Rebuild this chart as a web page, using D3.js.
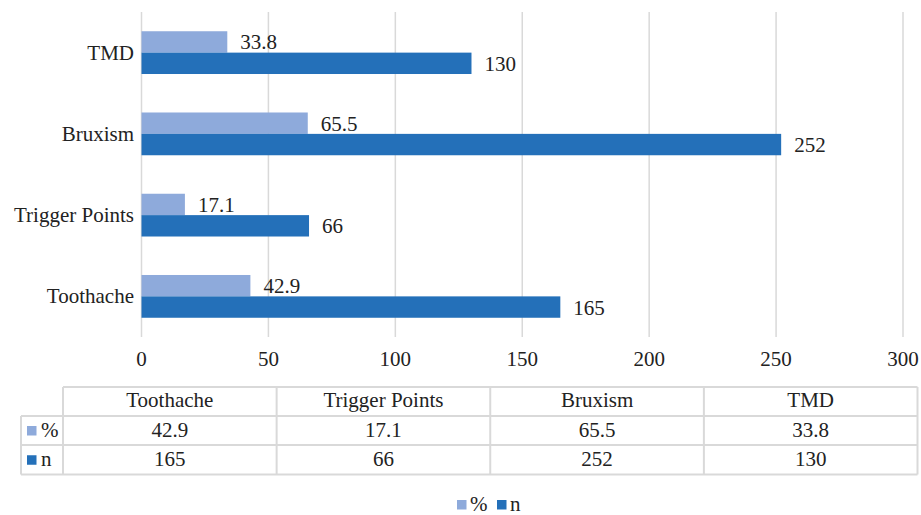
<!DOCTYPE html>
<html>
<head>
<meta charset="utf-8">
<script src="https://cdn.jsdelivr.net/npm/d3@7"></script>
</head>
<body style="margin:0;background:#fff">
<div id="chart"></div>
<script>
// data
var categories = ["Toothache", "Trigger Points", "Bruxism", "TMD"];
var pctValues = [42.9, 17.1, 65.5, 33.8];
var nValues = [165, 66, 252, 130];
var seriesNames = ["%", "n"];
var seriesColors = ["#8eaadb", "#2470b9"];
var xTicks = [0, 50, 100, 150, 200, 250, 300];

var width = 921, height = 515;
var fontSize = 21;

var svg = d3.select("#chart").append("svg")
  .attr("width", width)
  .attr("height", height);

var x = d3.scaleLinear().domain([0, 300]).range([141.5, 903]);

// TMD on top, Toothache at bottom
var y = d3.scaleBand()
  .domain(categories.slice().reverse())
  .range([12, 337])
  .paddingInner(0)
  .paddingOuter(0);

var inner = d3.scaleBand()
  .domain(seriesNames)
  .range([0, y.bandwidth()])
  .paddingInner(0)
  .paddingOuter(0.9);

// gridlines
svg.append("g")
  .selectAll("line")
  .data(xTicks)
  .join("line")
  .attr("x1", d => x(d))
  .attr("x2", d => x(d))
  .attr("y1", 12)
  .attr("y2", 337)
  .attr("stroke", "#d9d9d9")
  .attr("stroke-width", 1.5);

// x tick labels
svg.append("g")
  .selectAll("text")
  .data(xTicks)
  .join("text")
  .attr("x", d => x(d))
  .attr("y", 366)
  .attr("text-anchor", "middle")
  .text(d => d);

var rows = categories.map((c, i) => ({ cat: c, vals: [pctValues[i], nValues[i]] }));

var group = svg.append("g")
  .selectAll("g")
  .data(rows)
  .join("g")
  .attr("transform", d => "translate(0," + y(d.cat) + ")");

var pairs = group.selectAll("g.bar")
  .data(d => d.vals.map((v, j) => ({ series: seriesNames[j], v: v, j: j })))
  .join("g")
  .attr("class", "bar");

pairs.append("rect")
  .attr("x", x(0))
  .attr("y", d => inner(d.series))
  .attr("width", d => x(d.v) - x(0))
  .attr("height", inner.bandwidth())
  .attr("fill", d => seriesColors[d.j]);

pairs.append("text")
  .attr("x", d => x(d.v) + 13)
  .attr("y", d => inner(d.series) + inner.bandwidth() / 2 + 7.5)
  .text(d => d.v);

// category labels
group.append("text")
  .attr("x", 134)
  .attr("y", y.bandwidth() / 2 + 7)
  .attr("text-anchor", "end")
  .text(d => d.cat);

// data table under the chart
var colX = d3.scaleBand().domain(categories).range([63, 917.5]);
var rowY = [387, 416, 445, 474.5];
var tbl = svg.append("g");
var lineColor = "#d9d9d9";

// horizontal lines
tbl.append("line").attr("x1", 63).attr("x2", 917.5).attr("y1", rowY[0]).attr("y2", rowY[0]);
[1, 2, 3].forEach(function (r) {
  tbl.append("line").attr("x1", 21).attr("x2", 917.5).attr("y1", rowY[r]).attr("y2", rowY[r]);
});
// vertical lines
tbl.append("line").attr("x1", 21).attr("x2", 21).attr("y1", rowY[1]).attr("y2", rowY[3]);
categories.forEach(function (c) {
  tbl.append("line").attr("x1", colX(c)).attr("x2", colX(c)).attr("y1", rowY[0]).attr("y2", rowY[3]);
});
tbl.append("line").attr("x1", 917.5).attr("x2", 917.5).attr("y1", rowY[0]).attr("y2", rowY[3]);
tbl.selectAll("line").attr("stroke", lineColor).attr("stroke-width", 2);

// header
tbl.selectAll("text.head")
  .data(categories)
  .join("text")
  .attr("class", "head")
  .attr("x", d => colX(d) + colX.bandwidth() / 2)
  .attr("y", 407)
  .attr("text-anchor", "middle")
  .text(d => d);

[pctValues, nValues].forEach(function (vals, r) {
  var baseY = (rowY[r + 1] + rowY[r + 2]) / 2;
  tbl.append("rect")
    .attr("x", 27).attr("y", baseY - 4.5)
    .attr("width", 9.5).attr("height", 9.5)
    .attr("fill", seriesColors[r]);
  tbl.append("text")
    .attr("x", 41)
    .attr("y", baseY + 6.5)
    .text(seriesNames[r]);
  tbl.selectAll("text.r" + r)
    .data(vals)
    .join("text")
    .attr("class", "r" + r)
    .attr("x", (d, i) => colX(categories[i]) + colX.bandwidth() / 2)
    .attr("y", baseY + 6.5)
    .attr("text-anchor", "middle")
    .text(d => d);
});

// legend
var legend = svg.append("g").attr("transform", "translate(457,504)");
var legendX = [0, 40];
seriesNames.forEach(function (s, i) {
  legend.append("rect")
    .attr("x", legendX[i]).attr("y", -4)
    .attr("width", 9.5).attr("height", 9.5)
    .attr("fill", seriesColors[i]);
  legend.append("text")
    .attr("x", legendX[i] + 13)
    .attr("y", 6.5)
    .text(s);
});

// same serif face on every text
svg.selectAll("text")
  .style("font-family", "'Liberation Serif'")
  .style("font-size", fontSize + "px")
  .style("fill", "#222");
</script>
</body>
</html>
